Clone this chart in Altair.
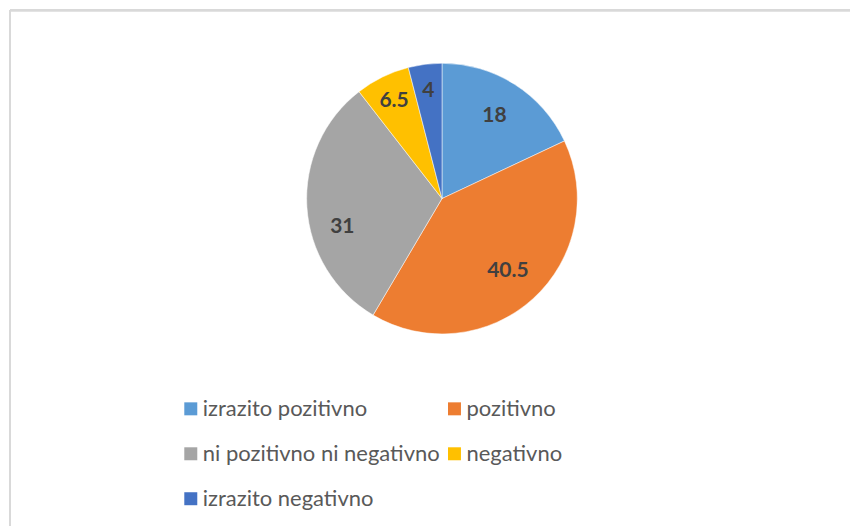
import altair as alt
import pandas as pd

categories = ["izrazito pozitivno", "pozitivno", "ni pozitivno ni negativno", "negativno", "izrazito negativno"]
values = [18, 40.5, 31, 6.5, 4]
labels = ["18", "40.5", "31", "6.5", "4"]
colors = ["#5B9BD5", "#ED7D31", "#A5A5A5", "#FFC000", "#4472C4"]

df = pd.DataFrame({"cat": categories, "val": values, "lab": labels, "order": list(range(len(values)))})

W, H = 841, 516
CX, CY = 432.5, 188.5

base = alt.Chart(df).encode(
    theta=alt.Theta("val:Q", stack=True),
    order=alt.Order("order:Q"),
)

pie = base.mark_arc(outerRadius=135.5, stroke="white", strokeWidth=0.5).encode(
    x=alt.value(CX),
    y=alt.value(CY),
    color=alt.Color(
        "cat:N",
        scale=alt.Scale(domain=categories, range=colors),
        sort=categories,
        legend=alt.Legend(
            title=None,
            orient="none",
            legendX=170,
            legendY=388,
            columns=2,
            direction="horizontal",
            symbolType="square",
            symbolSize=169,
            symbolStrokeWidth=0,
            labelFont="Lato",
            labelFontSize=22,
            labelColor="#595959",
            labelOffset=1,
            rowPadding=23,
            columnPadding=3,
            labelLimit=400,
        ),
    ),
)

txt_style = dict(font="Lato", fontSize=21, fontWeight="bold", color="#404040")

# Excel "best fit" label placement: small slices sit further out, the grey slice's label sits lower
text_main = base.mark_text(radius=98, **txt_style).encode(
    x=alt.value(CX), y=alt.value(CY), text="lab:N",
    opacity=alt.condition("datum.val >= 10 && datum.val < 30 || datum.val > 35", alt.value(1), alt.value(0)),
)
text_left = base.mark_text(radius=100, dy=22, **txt_style).encode(
    x=alt.value(CX), y=alt.value(CY), text="lab:N",
    opacity=alt.condition("datum.val >= 30 && datum.val <= 35", alt.value(1), alt.value(0)),
)
text_small = base.mark_text(radius=109, **txt_style).encode(
    x=alt.value(CX), y=alt.value(CY), text="lab:N",
    opacity=alt.condition("datum.val < 10", alt.value(1), alt.value(0)),
)

frame_top = alt.Chart(df).mark_rule(color="#D9D9D9", strokeWidth=2).encode(
    x=alt.value(0), x2=alt.value(W), y=alt.value(0)
)
frame_left = alt.Chart(df).mark_rule(color="#D9D9D9", strokeWidth=2).encode(
    x=alt.value(0), y=alt.value(0), y2=alt.value(H)
)

chart = alt.layer(pie, text_main, text_left, text_small, frame_top, frame_left).properties(
    width=W, height=H, padding={"left": 1, "top": 1, "right": 0, "bottom": 0}
).configure(
    background="white",
    view=alt.ViewConfig(stroke="transparent", strokeWidth=0),
)

chart.save("out.html", embed_options={"renderer": "svg", "actions": False})
